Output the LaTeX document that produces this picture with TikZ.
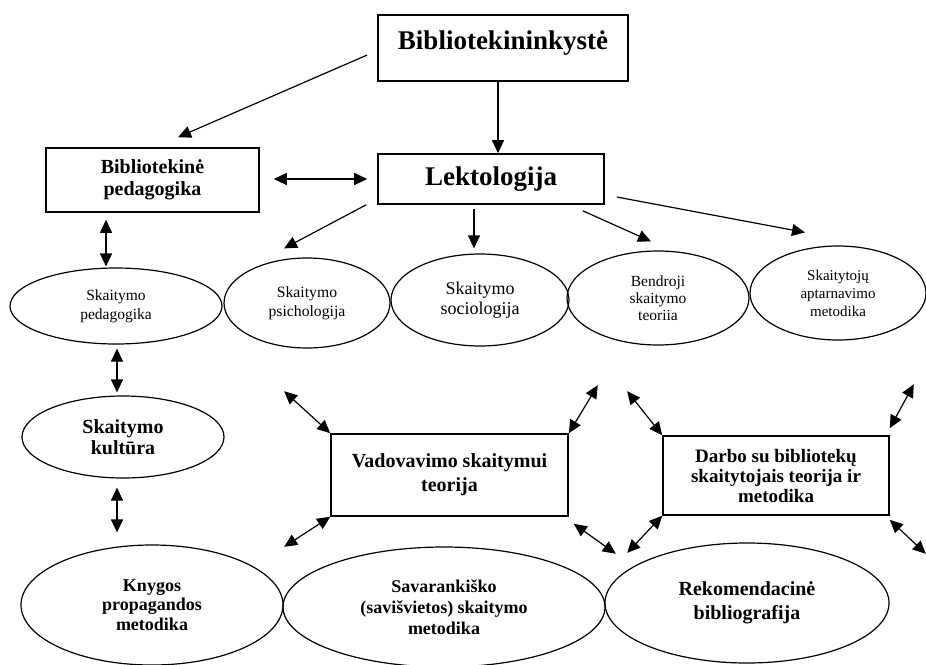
\documentclass[tikz,border=0pt]{standalone}
\usepackage{fontspec}
\setmainfont{Liberation Serif}
\usetikzlibrary{arrows.meta,shapes,calc}
\newcommand{\fsz}[2]{\fontsize{#1}{#2}\selectfont}

\begin{document}
\begin{tikzpicture}[x=1pt,y=-1pt,>={Triangle[length=13pt,width=12pt]},
  box/.style={draw,line width=1.6pt,inner sep=0pt,align=center},
  oval/.style={draw,ellipse,line width=1.2pt,inner sep=0pt,align=center},
  link/.style={line width=1.2pt}]
  \useasboundingbox (0,0) rectangle (926,664);
% Boxes
  \node[box,minimum width=250pt,minimum height=66pt,font=\bfseries\fsz{27}{30},text depth=15pt] (bib) at (503,48) {Bibliotekininkystė};
  \node[box,minimum width=226pt,minimum height=50pt,font=\bfseries\fsz{27}{30}] (lekt) at (491,179) {Lektologija};
  \node[box,minimum width=213pt,minimum height=64pt,font=\bfseries\fsz{20}{22}] (bibped) at (152.5,180) {Bibliotekinė\\pedagogika};
  \node[box,minimum width=237pt,minimum height=82pt,font=\bfseries\fsz{20}{24}] (vad) at (449.5,475) {Vadovavimo skaitymui\\teorija};
  \node[box,minimum width=226pt,minimum height=79pt,font=\bfseries\fsz{19}{20}] (darbo) at (776,475.5) {Darbo su bibliotekų\\skaitytojais teorija ir\\metodika};
% Upper ellipses
  \node[oval,minimum width=212pt,minimum height=76pt,font=\fsz{15.5}{19}] (sped) at (116,306) {Skaitymo\\pedagogika};
  \node[oval,minimum width=166pt,minimum height=90pt,font=\fsz{15.7}{19}] (psi) at (307,303) {Skaitymo\\psichologija};
  \node[oval,minimum width=178pt,minimum height=92pt,font=\fsz{18}{20}] (soc) at (480,300) {Skaitymo\\sociologija};
  \node[oval,minimum width=182pt,minimum height=94pt,font=\fsz{15.5}{17}] (bend) at (658,298) {Bendroji\\skaitymo\\teoriia};
  \node[oval,minimum width=176pt,minimum height=94pt,font=\fsz{15}{18}] (apt) at (838,293) {Skaitytojų\\aptarnavimo\\metodika};
% Lower ellipses
  \node[oval,minimum width=202pt,minimum height=82pt,font=\bfseries\fsz{20}{21}] (kult) at (123,437) {Skaitymo\\kultūra};
  \node[oval,minimum width=262pt,minimum height=120pt,font=\bfseries\fsz{18}{19.5}] (knyg) at (152,605) {Knygos\\propagandos\\metodika};
  \node[oval,minimum width=322pt,minimum height=120pt,font=\bfseries\fsz{18}{21}] (sav) at (444,607) {Savarankiško\\(savišvietos) skaitymo\\metodika};
  \node[oval,minimum width=284pt,minimum height=120pt,font=\bfseries\fsz{20}{24}] (rek) at (747,603) {Rekomendacinė\\bibliografija};
% Arrows from the top
  \draw[link,->] ($(bib.west)+(-10,7)$) -- ($(bibped.north)+(25.5,-10)$);
  \draw[link,->] ($(bib.south)+(-5,0)$) -- ($(lekt.north)+(7,0)$);
  \draw[link,<->] ($(bibped.east)+(14,-1)$) -- ($(lekt.west)+(-10,0)$);
  \draw[link,->] ($(lekt.south west)+(-11,0)$) -- ($(psi.north)+(-23,-9)$);
  \draw[link,->] ($(lekt.south)+(-17,4)$) -- ($(soc.north)+(-6,-5)$);
  \draw[link,->] ($(lekt.south east)+(-22,6)$) -- ($(bend.north)+(-7,-9)$);
  \draw[link,->] ($(lekt.east)+(12,18)$) -- ($(apt.north)+(-33,-13)$);
% Left column
  \draw[link,<->] ($(bibped.south)+(-46.5,7)$) -- ($(sped.north)+(-10,-1)$);
  \draw[link,<->] ($(sped.south)+(1,4)$) -- ($(kult.north)+(-6,-3)$);
  \draw[link,<->] ($(kult.south)+(-6,9)$) -- ($(knyg.north)+(-35,-12)$);
% Corner arrows
  \draw[link,<->] (vad.north west) -- +(-46,-42);
  \draw[link,<->] (vad.north east) -- +(29,-48);
  \draw[link,<->] (vad.south west) -- +(-46,30);
  \draw[link,<->] ($(vad.south east)+(5,7)$) -- ($(vad.south east)+(47,37)$);
  \draw[link,<->] (darbo.north west) -- +(-35,-44);
  \draw[link,<->] ($(darbo.north east)+(0,-7)$) -- +(24,-44);
  \draw[link,<->] (darbo.south west) -- +(-35,37);
  \draw[link,<->] ($(darbo.south east)+(0,4)$) -- +(36,34);
\end{tikzpicture}
\end{document}
